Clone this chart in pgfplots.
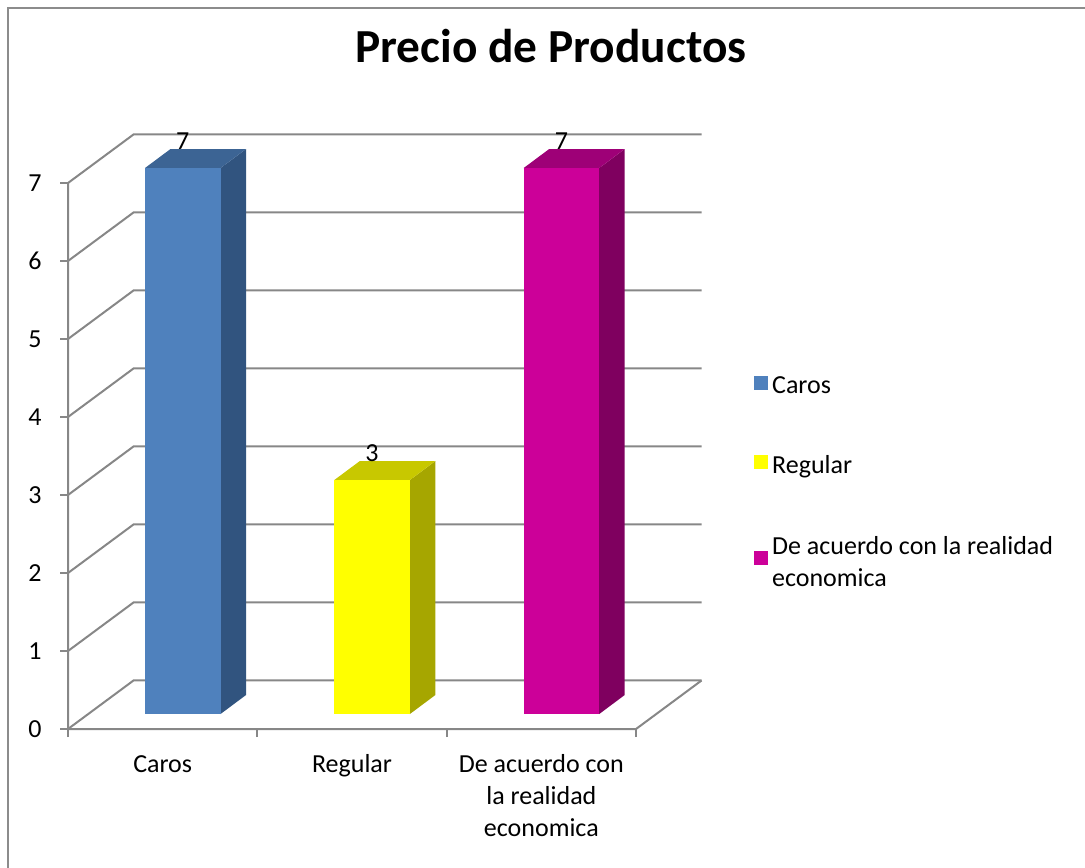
\documentclass[border=0pt]{standalone}
\usepackage{pgfplots}
\pgfplotsset{compat=1.18}
\usepackage{pgfplotstable}
\usepackage{fontspec}
\setmainfont{Carlito}

\definecolor{c0front}{HTML}{4F81BD}
\definecolor{c0top}{HTML}{3C6494}
\definecolor{c0side}{HTML}{31547F}
\definecolor{c1front}{HTML}{FFFF00}
\definecolor{c1top}{HTML}{C8C800}
\definecolor{c1side}{HTML}{A6A600}
\definecolor{c2front}{HTML}{CC0099}
\definecolor{c2top}{HTML}{9E0077}
\definecolor{c2side}{HTML}{7F005F}
\definecolor{gridgray}{HTML}{878787}
\definecolor{framegray}{HTML}{8C8C8C}

\pgfplotstableread{
x v
0 7
1 3
2 7
}\datatable

\def\dxw{0.346}
\def\dyw{0.622}
\def\fxo{0.4067}
\def\bw{0.3988}
\def\bb{0.192}
\def\ddx{0.1347}
\def\ddy{0.2436}
\newcommand\lblfont{\fontsize{13}{16}\selectfont}

\begin{document}
\begin{tikzpicture}
\useasboundingbox (-34pt,-69pt) rectangle (508.5pt,364.5pt);
\draw[framegray, line width=1pt] (-30pt,-80pt) rectangle (520pt,360.25pt);
\begin{axis}[
  at={(0,0)}, anchor=south west,
  x=94.67pt, y=39pt,
  xmin=0, xmax=3.346, ymin=0, ymax=7.622,
  clip=false,
  axis x line*=bottom, axis y line*=left,
  axis line style={draw=none},
  xtick={0,1,2,3},
  x tick label as interval,
  xticklabels={\strut Caros,\strut Regular,{\strut De acuerdo con\\la realidad\\economica}},
  ytick={0,1,2,3,4,5,6,7},
  tick align=outside,
  major tick length=4pt,
  tick style={gridgray, line width=1pt},
  /pgf/number format/assume math mode=true,
  ticklabel style={font=\lblfont, text=black},
  xticklabel style={anchor=north, align=center, inner sep=0pt, yshift=-6.3pt},
  yticklabel style={anchor=east, inner sep=0pt, xshift=-9pt},
  title={Precio de Productos},
  title style={at={(axis cs:2.551,8.397)}, anchor=base, inner sep=0pt, font=\bfseries\fontsize{23.7}{28}\selectfont},
  legend style={at={(axis cs:3.59,4.62)}, anchor=north west, draw=none, fill=none, font=\lblfont, row sep=25.5pt, nodes={align=left}},
  legend cell align=left,
  legend image code/.code={\fill[#1] (0pt,-1.5pt) rectangle (7pt,5.5pt);},
]
% walls and floor
\pgfplotsinvokeforeach{0,1,2,3,4,5,6,7}{
  \draw[gridgray, line width=1pt] (axis cs:0,#1) -- (axis cs:\dxw,#1+\dyw) -- (axis cs:\dxw+3,#1+\dyw);
}
\draw[gridgray, line width=1pt] (axis cs:0,7) -- (axis cs:0,0) -- (axis cs:3,0) -- (axis cs:3+\dxw,\dyw);
% bars
\pgfplotsinvokeforeach{0,1,2}{
  \pgfplotstablegetelem{#1}{v}\of\datatable
  \pgfmathsetmacro\bXL{#1+\fxo}
  \pgfmathsetmacro\bXR{\bXL+\bw}
  \pgfmathsetmacro\bT{\pgfplotsretval+\bb}
  \pgfmathsetmacro\bXLd{\bXL+\ddx}
  \pgfmathsetmacro\bXRd{\bXR+\ddx}
  \pgfmathsetmacro\bBd{\bb+\ddy}
  \pgfmathsetmacro\bTd{\bT+\ddy}
  \edef\doplots{%
    \noexpand\addplot[fill=c#1side, draw=none, forget plot] coordinates {(\bXR,\bb) (\bXRd,\bBd) (\bXRd,\bTd) (\bXR,\bT)};
    \noexpand\addplot[fill=c#1top, draw=none, forget plot] coordinates {(\bXL,\bT) (\bXR,\bT) (\bXRd,\bTd) (\bXLd,\bTd)};
    \noexpand\addplot[fill=c#1front, draw=none] coordinates {(\bXL,\bb) (\bXR,\bb) (\bXR,\bT) (\bXL,\bT)};
  }\doplots
}
% data labels
\addplot[draw=none, mark=none, forget plot, nodes near coords, point meta=explicit,
  nodes near coords style={anchor=base, inner sep=0pt, font=\lblfont, text=black}]
  table[x expr=\thisrow{x}+0.606, y expr=\thisrow{v}+\bb+\ddy, meta=v] {\datatable};
\legend{Caros, Regular, {De acuerdo con la realidad\\economica}}
\end{axis}
\end{tikzpicture}
\end{document}
